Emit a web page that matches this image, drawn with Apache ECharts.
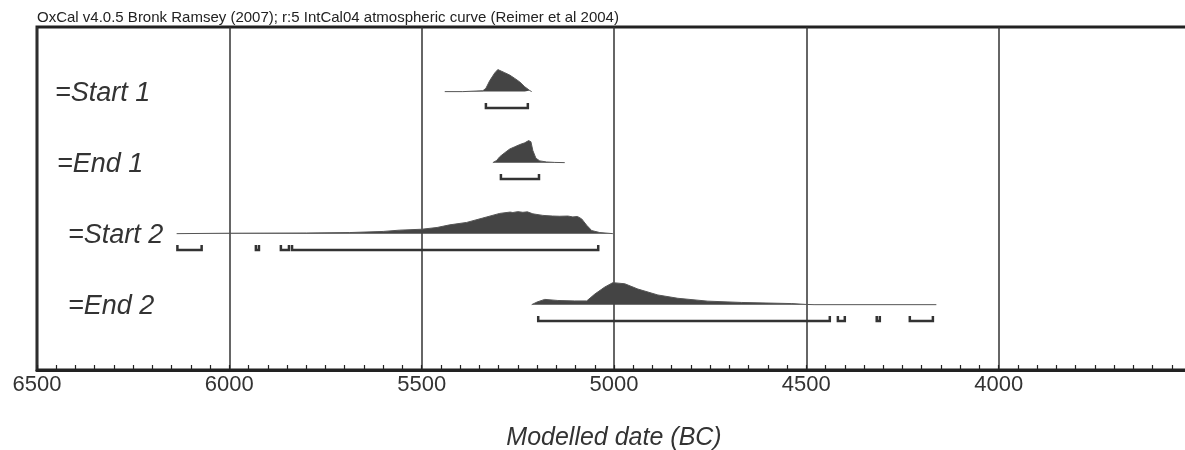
<!DOCTYPE html>
<html>
<head>
<meta charset="utf-8">
<script src="https://cdn.jsdelivr.net/npm/echarts@6.0.0/dist/echarts.min.js"></script>
<style>
  html, body { margin: 0; padding: 0; background: #fff; }
  #chart { width: 1185px; height: 450px; }
</style>
</head>
<body>
<div id="chart"></div>
<script>
const header = "OxCal v4.0.5 Bronk Ramsey (2007); r:5 IntCal04 atmospheric curve (Reimer et al 2004)";
const rowNames = ["=Start 1", "=End 1", "=Start 2", "=End 2"];
const xTicks = [6500, 6000, 5500, 5000, 4500, 4000];

// posterior densities: [year BC, relative probability]
const start1 = [
  [5440, 0], [5393, 0], [5390, 0.04], [5341, 0.04], [5333, 0.15], [5323, 0.5],
  [5310, 0.85], [5302, 1.0], [5297, 0.94], [5284, 0.86], [5271, 0.75],
  [5258, 0.6], [5245, 0.44], [5232, 0.22], [5219, 0.05], [5214, 0]
];
const end1 = [
  [5315, 0], [5305, 0.1], [5297, 0.27], [5284, 0.45], [5271, 0.62], [5258, 0.72],
  [5245, 0.82], [5232, 0.9], [5222, 1.0], [5216, 0.95], [5211, 0.55], [5203, 0.2],
  [5193, 0.08], [5175, 0.03], [5154, 0.01], [5128, 0]
];
const start2 = [
  [6137, 0], [6000, 0.02], [5800, 0.03], [5687, 0.05], [5600, 0.1], [5557, 0.16],
  [5500, 0.2], [5460, 0.28], [5427, 0.4], [5383, 0.51], [5341, 0.71], [5297, 0.92],
  [5270, 0.98], [5263, 0.96], [5250, 1.0], [5237, 0.97], [5225, 0.99], [5211, 0.9],
  [5185, 0.83], [5160, 0.8], [5141, 0.79], [5120, 0.8], [5107, 0.76], [5095, 0.78],
  [5084, 0.67], [5071, 0.38], [5058, 0.14], [5037, 0.05], [5003, 0]
];
const end2 = [
  [5214, 0], [5200, 0.12], [5180, 0.24], [5146, 0.19], [5102, 0.17], [5071, 0.17],
  [5050, 0.48], [5024, 0.8], [5003, 1.0], [4972, 0.95], [4938, 0.71], [4886, 0.44],
  [4834, 0.29], [4756, 0.16], [4668, 0.1], [4538, 0.05], [4500, 0.01], [4480, 0],
  [4162, 0]
];
const densities = [start1, end1, start2, end2];

// highest posterior density ranges: [from, to]
const start1Ranges = [[5333, 5224]];
const end1Ranges = [[5294, 5195]];
const start2Ranges = [[6135, 6072], [5931, 5923], [5866, 5845], [5837, 5041]];
const end2Ranges = [[5197, 4439], [4418, 4400], [4317, 4309], [4231, 4171]];
const rangeSets = [start1Ranges, end1Ranges, start2Ranges, end2Ranges];

// layout
const yMax = 4.83;
const peakHeight = 0.31;
const rangeDrop = 0.23;
const labelOffsets = [18, 20, 31, 31];
const font = "'Liberation Sans', Arial, sans-serif";

function rowBase(i) {
  return rowNames.length - 1 - i + 0.92;
}

const chart = echarts.init(document.getElementById("chart"));

const densitySeries = densities.map((d, i) => ({
  type: "line",
  silent: true,
  symbol: "none",
  data: d.map(p => [p[0], rowBase(i) + p[1] * peakHeight]),
  lineStyle: { color: "#555", width: 1 },
  areaStyle: { color: "#444", opacity: 1, origin: rowBase(i) },
  z: 3
}));

const rangeData = [];
rangeSets.forEach((set, i) => set.forEach(r => rangeData.push([i, r[0], r[1]])));

const rangeSeries = {
  type: "custom",
  silent: true,
  data: rangeData,
  encode: { x: [1, 2], y: 0 },
  renderItem: function(params, api) {
    const y = rowBase(api.value(0)) - rangeDrop;
    const a = api.coord([api.value(1), y]);
    const b = api.coord([api.value(2), y]);
    return {
      type: "polyline",
      shape: { points: [[a[0], a[1] - 5], a, b, [b[0], b[1] - 5]] },
      style: { stroke: "#333", lineWidth: 2.5, fill: null }
    };
  },
  z: 4
};

const labelSeries = {
  type: "custom",
  silent: true,
  data: rowNames.map((n, i) => [i]),
  encode: { y: 0 },
  renderItem: function(params, api) {
    const i = api.value(0);
    const p = api.coord([xTicks[0], rowBase(i)]);
    return {
      type: "text",
      x: p[0] + labelOffsets[i],
      y: p[1] + 2,
      style: {
        text: rowNames[i],
        fill: "#333",
        font: "italic 27px " + font,
        textAlign: "left",
        textVerticalAlign: "middle"
      }
    };
  },
  z: 5
};

chart.setOption({
  animation: false,
  title: {
    text: header,
    left: 32,
    top: 5,
    textStyle: { fontSize: 15, fontWeight: "normal", color: "#222", fontFamily: font }
  },
  grid: {
    left: 37,
    top: 27,
    right: -6,
    bottom: 80,
    outerBoundsMode: "none",
    show: true,
    borderColor: "#222",
    borderWidth: 3
  },
  xAxis: {
    type: "value",
    inverse: true,
    min: 3500,
    max: 6500,
    interval: 500,
    name: "Modelled date (BC)",
    nameLocation: "middle",
    nameGap: 56,
    nameTextStyle: { fontSize: 25, fontStyle: "italic", color: "#333", fontFamily: font },
    axisLine: { lineStyle: { color: "#222", width: 3 } },
    axisTick: { inside: true, length: 5, lineStyle: { color: "#222", width: 1.2 } },
    minorTick: { show: true, splitNumber: 10, length: 5, lineStyle: { color: "#222", width: 1.2 } },
    splitLine: { show: true, lineStyle: { color: "#333", width: 1.5 } },
    axisLabel: {
      showMinLabel: false,
      margin: 4,
      fontSize: 22,
      color: "#333",
      fontFamily: font,
      formatter: v => (xTicks.indexOf(v) >= 0 ? String(v) : "")
    }
  },
  yAxis: {
    type: "value",
    min: 0,
    max: yMax,
    show: false
  },
  series: densitySeries.concat([rangeSeries, labelSeries])
});
</script>
</body>
</html>
